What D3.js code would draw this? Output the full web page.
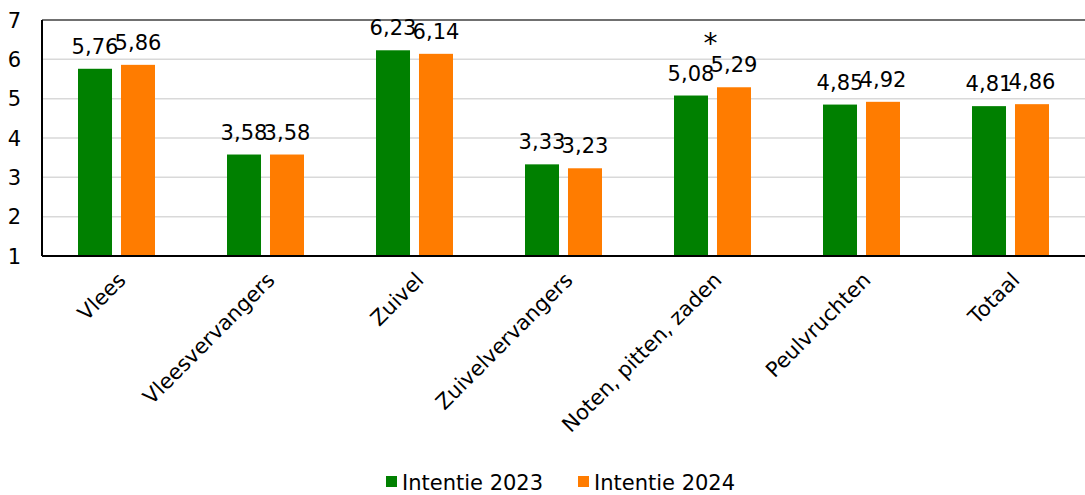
<html lang="nl">
  <head>
    <meta charset="utf-8">
    <title>Intentie 2023 / 2024</title>
    <script src="https://d3js.org/d3.v7.min.js"></script>
    <style>
      body { margin: 0; background: #fff; }
      text { font-family: "DejaVu Sans", Verdana, sans-serif; fill: #000; }
    </style>
  </head>
  <body>
    <div id="viz"></div>
    <script type="text/javascript">
    // data
    var categories = ["Vlees", "Vleesvervangers", "Zuivel", "Zuivelvervangers", "Noten, pitten, zaden", "Peulvruchten", "Totaal"];
    var series = ["Intentie 2023", "Intentie 2024"];
    var values2023 = [5.76, 3.58, 6.23, 3.33, 5.08, 4.85, 4.81];
    var values2024 = [5.86, 3.58, 6.14, 3.23, 5.29, 4.92, 4.86];
    var significant = [false, false, false, false, true, false, false];
    var yTicks = [1, 2, 3, 4, 5, 6, 7];

    var w = 1085;
    var h = 495;
    var colors = ["#008000", "#ff7c00"];
    var fontSize = 21;

    var svg = d3.select("#viz")
        .append("svg")
        .attr("width", w)
        .attr("height", h);

    var x0 = d3.scaleBand()
        .domain(categories)
        .range([42, 1085]);

    // two bars per category, 34px wide with a small gap
    var x1 = d3.scaleBand()
        .domain(series)
        .range([x0.bandwidth() / 2 - 38.5, x0.bandwidth() / 2 + 38.5])
        .paddingInner(0.209);

    var y = d3.scaleLinear()
        .domain([1, 7])
        .range([256, 20]);

    // gridlines
    svg.append("g")
        .selectAll("line")
        .data(yTicks.filter(function(d) { return d > 1 && d < 7; }))
        .enter()
        .append("line")
        .attr("x1", 42)
        .attr("x2", w)
        .attr("y1", function(d) { return y(d); })
        .attr("y2", function(d) { return y(d); })
        .attr("stroke", "#d9d9d9")
        .attr("stroke-width", 1.5);

    // top line at 7
    svg.append("line")
        .attr("x1", 42).attr("x2", w)
        .attr("y1", y(7)).attr("y2", y(7))
        .attr("stroke", "#404040")
        .attr("stroke-width", 1.5);

    // y tick labels
    svg.append("g")
        .selectAll("text")
        .data(yTicks)
        .enter()
        .append("text")
        .attr("x", 21)
        .attr("y", function(d) { return y(d); })
        .attr("dy", "0.36em")
        .attr("text-anchor", "end")
        .style("font-size", fontSize + "px")
        .text(function(d) { return d; });

    var rows = categories.map(function(c, i) {
      return { cat: c, vals: [values2023[i], values2024[i]], sig: significant[i] };
    });

    var groups = svg.append("g")
        .selectAll("g")
        .data(rows)
        .enter()
        .append("g")
        .attr("transform", function(d) { return "translate(" + x0(d.cat) + ",0)"; });

    groups.selectAll("rect")
        .data(function(d) { return d.vals.map(function(v, j) { return { s: series[j], v: v, j: j }; }); })
        .enter()
        .append("rect")
        .attr("x", function(d) { return x1(d.s); })
        .attr("y", function(d) { return y(d.v); })
        .attr("width", x1.bandwidth())
        .attr("height", function(d) { return y(1) - y(d.v); })
        .attr("fill", function(d) { return colors[d.j]; });

    // value labels
    groups.selectAll("text.val")
        .data(function(d) { return d.vals.map(function(v, j) { return { s: series[j], v: v }; }); })
        .enter()
        .append("text")
        .attr("class", "val")
        .attr("x", function(d) { return x1(d.s) + x1.bandwidth() / 2; })
        .attr("y", function(d) { return y(d.v) - 15; })
        .attr("text-anchor", "middle")
        .style("font-size", fontSize + "px")
        .text(function(d) { return d3.format(".2f")(d.v).replace(".", ","); });

    // significance marker
    groups.filter(function(d) { return d.sig; })
        .append("text")
        .attr("x", x0.bandwidth() / 2 - 2)
        .attr("y", function(d) { return y(d3.max(d.vals)) - 34; })
        .attr("text-anchor", "middle")
        .style("font-size", "28px")
        .text("*");

    // axis lines
    svg.append("line")
        .attr("x1", 42).attr("x2", w)
        .attr("y1", y(1)).attr("y2", y(1))
        .attr("stroke", "#000").attr("stroke-width", 2);
    svg.append("line")
        .attr("x1", 42).attr("x2", 42)
        .attr("y1", y(7)).attr("y2", y(1))
        .attr("stroke", "#000").attr("stroke-width", 2);

    // rotated category labels
    svg.append("g")
        .selectAll("text")
        .data(categories)
        .enter()
        .append("text")
        .attr("transform", function(d) {
          return "translate(" + (x0(d) + x0.bandwidth() / 2) + ",271) rotate(-45)";
        })
        .attr("text-anchor", "end")
        .attr("dy", "0.7em")
        .style("font-size", fontSize + "px")
        .text(function(d) { return d; });

    // legend
    var legend = svg.append("g")
        .attr("transform", "translate(386,482)");
    var legendX = [0, 192];
    series.forEach(function(s, i) {
      legend.append("rect")
          .attr("x", legendX[i])
          .attr("y", -6)
          .attr("width", 11)
          .attr("height", 11)
          .attr("fill", colors[i]);
      legend.append("text")
          .attr("x", legendX[i] + 16)
          .attr("y", 0)
          .attr("dy", "0.36em")
          .style("font-size", fontSize + "px")
          .text(s);
    });
    </script>
  </body>
</html>
